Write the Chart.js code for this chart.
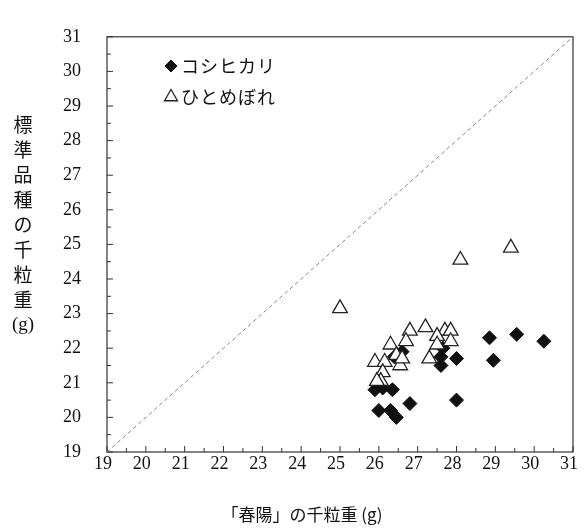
<!DOCTYPE html>
<html>
<head>
<meta charset="utf-8">
<script src="https://cdn.jsdelivr.net/npm/chart.js@4.4.1/dist/chart.umd.min.js"></script>
<style>
	html, body { margin: 0; padding: 0; background: #fff; }
</style>
</head>
<body>
<canvas id="chart" width="585" height="530"></canvas>
<script>
// ── Data ────────────────────────────────────────────────
const xTicks = [ 19, 20, 21, 22, 23, 24, 25, 26, 27, 28, 29, 30, 31 ];
const yTicks = [ 19, 20, 21, 22, 23, 24, 25, 26, 27, 28, 29, 30, 31 ];

// コシヒカリ (diamonds)
const koshiX = [ 25.9, 26.1, 26.35, 26.0, 26.3, 26.45, 26.8, 28.0, 27.6, 27.6, 28.0, 27.65, 26.6, 26.4, 28.85, 29.55, 30.25, 28.95 ];
const koshiY = [ 20.8, 20.85, 20.8, 20.2, 20.2, 20.0, 20.4, 20.5, 21.5, 21.75, 21.7, 22.0, 21.9, 21.75, 22.3, 22.4, 22.2, 21.65 ];

// ひとめぼれ (triangles)
const hitoX = [ 25.0, 28.1, 29.4, 27.2, 26.8, 26.7, 26.3, 26.45, 25.9, 26.15, 26.55, 26.6, 26.1, 26.05, 25.95, 27.7, 27.85, 27.5, 27.85, 27.5, 27.3 ];
const hitoY = [ 23.15, 24.55, 24.9, 22.6, 22.5, 22.2, 22.1, 21.8, 21.6, 21.6, 21.5, 21.7, 21.3, 21.05, 21.05, 22.5, 22.5, 22.35, 22.2, 22.1, 21.7 ];

// 1:1 line
const diagX = [ 19, 31 ];
const diagY = [ 19, 31 ];

const seriesNames = [ 'コシヒカリ', 'ひとめぼれ' ];
const xTitle = '「春陽」の千粒重 (g)';
const yTitle = [ '標', '準', '品', '種', 'の', '千', '粒', '重', '(g)' ];

// ── Style ───────────────────────────────────────────────
const ink = '#111';
const serif = "'Liberation Serif', 'Times New Roman', serif";
const jp = "'Noto Sans CJK JP', sans-serif";

const toPoints = ( xs, ys ) => xs.map( ( x, i ) => ( { x: x, y: ys[ i ] } ) );

// box, inward ticks, legend and titles
const decor = {
	id: 'decor',
	beforeDatasetsDraw( chart ) {
		const { ctx, chartArea: a, scales: { x, y } } = chart;
		ctx.save();
		ctx.strokeStyle = '#333';
		ctx.lineWidth = 1.2;
		ctx.strokeRect( a.left, a.top, a.right - a.left, a.bottom - a.top );
		ctx.lineWidth = 1;
		for ( let v = x.min; v <= x.max + 1e-9; v += 0.5 ) {
			const px = x.getPixelForValue( v );
			const len = Number.isInteger( v ) ? 6 : 4;
			ctx.beginPath();
			ctx.moveTo( px, a.bottom );
			ctx.lineTo( px, a.bottom - len );
			ctx.stroke();
		}
		for ( let v = y.min; v <= y.max + 1e-9; v += 0.5 ) {
			const py = y.getPixelForValue( v );
			const len = Number.isInteger( v ) ? 6 : 4;
			ctx.beginPath();
			ctx.moveTo( a.left, py );
			ctx.lineTo( a.left + len, py );
			ctx.stroke();
		}
		ctx.restore();
	},
	afterDraw( chart ) {
		const { ctx } = chart;
		const sets = chart.data.datasets;
		ctx.save();
		ctx.fillStyle = ink;
		ctx.textBaseline = 'middle';

		// legend
		const rows = [ { ds: sets[ 1 ], y: 66, label: seriesNames[ 0 ] }, { ds: sets[ 0 ], y: 97, label: seriesNames[ 1 ] } ];
		rows.forEach( ( r ) => {
			ctx.fillStyle = r.ds.backgroundColor;
			ctx.strokeStyle = r.ds.borderColor;
			ctx.lineWidth = r.ds.borderWidth;
			Chart.helpers.drawPoint( ctx, {
				pointStyle: r.ds.pointStyle,
				radius: r.ds.pointRadius - 1,
				borderWidth: r.ds.borderWidth,
				rotation: 0,
			}, 171, r.y );
			ctx.fillStyle = ink;
			ctx.font = '18px ' + jp;
			ctx.textAlign = 'left';
			ctx.letterSpacing = '1px';
			ctx.fillText( r.label, 181, r.y );
		} );
		ctx.letterSpacing = '0px';

		// x title
		ctx.font = '17px ' + jp;
		ctx.textAlign = 'center';
		ctx.fillText( xTitle, 302, 515 );

		// y title, stacked vertically
		yTitle.forEach( ( ch, i ) => {
			ctx.font = ch === '(g)' ? '19px ' + serif : '19px ' + jp;
			ctx.fillText( ch, 23, 125 + i * 25 );
		} );
		ctx.restore();
	},
};

new Chart( document.getElementById( 'chart' ), {
	type: 'scatter',
	data: {
		datasets: [
			{
				label           : seriesNames[ 1 ],
				data            : toPoints( hitoX, hitoY ),
				pointStyle      : 'triangle',
				pointRadius     : 8.5,
				backgroundColor : '#fff',
				borderColor     : '#222',
				borderWidth     : 1.3,
				order           : 0,
			},
			{
				label           : seriesNames[ 0 ],
				data            : toPoints( koshiX, koshiY ),
				pointStyle      : 'rectRot',
				pointRadius     : 7,
				backgroundColor : '#111',
				borderColor     : '#111',
				borderWidth     : 1,
				order           : 1,
			},
			{
				label           : '1:1',
				data            : toPoints( diagX, diagY ),
				showLine        : true,
				pointRadius     : 0,
				borderColor     : '#888',
				borderWidth     : 1,
				borderDash      : [ 4, 3 ],
				order           : 2,
			},
		],
	},
	options: {
		responsive : false,
		animation  : false,
		layout: { padding: { top: 14, right: 12, left: 0, bottom: 0 } },
		plugins: {
			legend  : { display: false },
			tooltip : { enabled: false },
		},
		scales: {
			x: {
				type : 'linear',
				min  : xTicks[ 0 ],
				max  : xTicks[ xTicks.length - 1 ],
				afterBuildTicks: ( s ) => { s.ticks = xTicks.map( ( v ) => ( { value: v } ) ); },
				afterFit: ( s ) => { s.height = 78; },
				grid   : { display: false, drawTicks: false },
				border : { display: false },
				ticks: {
					autoSkip    : false,
					padding     : 1,
					labelOffset : -4,
					color       : ink,
					font        : { family: serif, size: 18 },
				},
			},
			y: {
				type : 'linear',
				min  : yTicks[ 0 ],
				max  : yTicks[ yTicks.length - 1 ],
				afterBuildTicks: ( s ) => { s.ticks = yTicks.map( ( v ) => ( { value: v } ) ); },
				afterFit: ( s ) => { s.width = 107; },
				grid   : { display: false, drawTicks: false },
				border : { display: false },
				ticks: {
					autoSkip : false,
					padding  : 26,
					color    : ink,
					font     : { family: serif, size: 18 },
				},
			},
		},
	},
	plugins: [ decor ],
} );
</script>
</body>
</html>
